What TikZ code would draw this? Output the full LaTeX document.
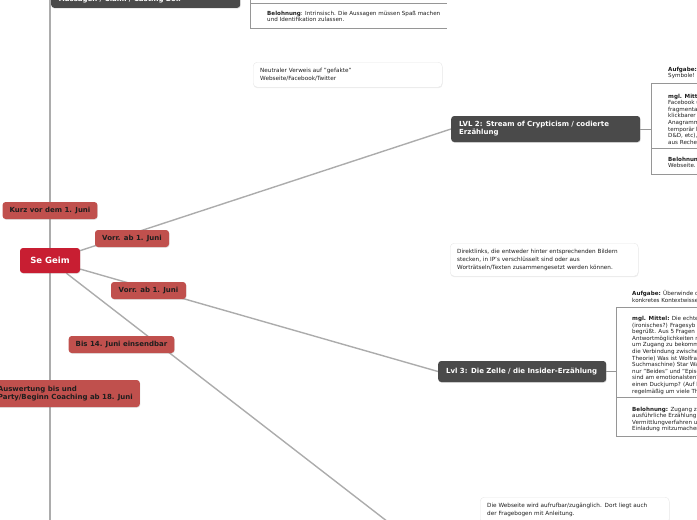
\documentclass[tikz,border=0pt]{standalone}
\usepackage{fontspec}
\setmainfont{DejaVu Sans}
\usetikzlibrary{positioning,shadows}

\pgfdeclarelayer{background}
\pgfsetlayers{background,main}

\definecolor{labelred}{RGB}{192,80,77}
\definecolor{geimred}{RGB}{200,30,50}
\definecolor{boxgray}{RGB}{74,74,74}
\definecolor{linegray}{RGB}{172,172,172}
\definecolor{framegray}{RGB}{150,150,150}
\definecolor{notegray}{RGB}{232,232,232}
\definecolor{txtgray}{RGB}{30,30,30}

\tikzset{
  darkbox/.style={fill=boxgray, rounded corners=3pt, text=white,
    font=\bfseries\fontsize{7}{8}\selectfont, inner xsep=8pt, inner ysep=0pt, align=left,
    drop shadow={opacity=0.25, shadow xshift=0.5pt, shadow yshift=-0.8pt}},
  datebox/.style={fill=labelred, rounded corners=3pt, text=txtgray,
    font=\bfseries\fontsize{7}{8}\selectfont, minimum height=17pt, inner xsep=7pt, inner ysep=0pt, align=left,
    drop shadow={opacity=0.2, shadow xshift=0.5pt, shadow yshift=-0.8pt}},
  rootbox/.style={fill=geimred, rounded corners=3pt, text=white,
    font=\bfseries\fontsize{8.5}{10}\selectfont, minimum width=60pt, minimum height=25pt,
    drop shadow={opacity=0.2, shadow xshift=0.5pt, shadow yshift=-0.8pt}},
  notebox/.style={fill=white, draw=notegray, line width=0.4pt, rounded corners=4pt, text=txtgray, anchor=north west,
    font=\fontsize{5.7}{8}\selectfont, align=left, inner xsep=7pt, inner ysep=0pt,
    drop shadow={opacity=0.15, shadow xshift=0.3pt, shadow yshift=-1pt}},
  coltext/.style={font=\fontsize{5.6}{6.6}\selectfont, text=txtgray, align=left, inner sep=0pt, anchor=north west},
  branch/.style={draw=linegray, line width=1.6pt},
  frame/.style={draw=framegray, line width=0.6pt},
}

\begin{document}
\begin{tikzpicture}[x=1pt, y=-1pt]
\useasboundingbox (0,0) rectangle (697,520);

% root and levels
\node[rootbox] (geim) at (50,260.5) {Se Geim};
\node[darkbox, anchor=south west, text width=173pt, minimum height=17pt] (aussagen) at (51,8) {Aussagen / Claim / Casting Box};
\node[darkbox, anchor=west, text width=173pt, minimum height=26pt] (lvlzwei) at (451,129) {LVL 2: Stream of Crypticism / codierte\\Erzählung};
\node[darkbox, anchor=west, text width=152pt, minimum height=21pt] (lvldrei) at (438,371.5) {Lvl 3: Die Zelle / die Insider-Erzählung};

% dates on the branches
\node[datebox, minimum width=94pt] (kurz) at (50,210.5) {Kurz vor dem 1. Juni};
\node[datebox, minimum width=74pt] (vorrzwei) at (132,238.5) {Vorr. ab 1. Juni};
\node[datebox, minimum width=75pt] (vorrdrei) at (148.5,290.5) {Vorr. ab 1. Juni};
\node[datebox, minimum width=105pt] (einsend) at (121.5,344.5) {Bis 14. Juni einsendbar};
\node[datebox, minimum height=27pt, anchor=east] (auswert) at (140,393.5) {Auswertung bis und\\Party/Beginn Coaching ab 18. Juni};

% notes
\node[notebox, minimum width=189pt, minimum height=25pt, text width=175pt] (verweis) at (253,62) {Neutraler Verweis auf "gefakte"\\Webseite/Facebook/Twitter};
\node[notebox, minimum width=188pt, minimum height=33pt, text width=174pt] (direkt) at (450,243) {Direktlinks, die entweder hinter entsprechenden Bildern\\stecken, in IP's verschlüsselt sind oder aus\\Worträtseln/Texten zusammengesetzt werden können.};
\node[notebox, minimum width=189pt, minimum height=26pt, text width=175pt] (webseite) at (480,497) {Die Webseite wird aufrufbar/zugänglich. Dort liegt auch\\der Fragebogen mit Anleitung.};

% free ends
\coordinate (topend) at (50,-5);
\coordinate (bottomend) at (50,530);
\coordinate (lvlvier) at (401,532);
\coordinate (colzwei) at (651,129);
\coordinate (coldrei) at (616,371.5);

\begin{pgfonlayer}{background}
\draw[branch] (geim) -- (topend);
\draw[branch] (geim) -- (bottomend);
\draw[branch, line width=1.4pt] (geim) -- (lvlzwei.west);
\draw[branch, line width=1.4pt] (geim) -- (lvldrei.west);
\draw[branch, line width=1.4pt] (geim) -- (lvlvier);
\end{pgfonlayer}

% box under Aussagen (cut at the top)
\draw[frame] (250,-1) -- (250,28) -- (447,28);
\draw[frame] (250,3) -- (447,3);
\node[coltext] (aussagenlohn) at (267,10.6) {\textbf{Belohnung}: Intrinsisch. Die Aussagen müssen Spaß machen\\und Identifikation zulassen.};

% LVL 2 column
\draw[frame] (lvlzwei.east) -- (colzwei);
\draw[frame] (651,83) -- (651,174);
\draw[frame] (651,83) -- (697,83);
\draw[frame] (651,148) -- (697,148);
\draw[frame] (651,174) -- (697,174);
\node[coltext] (zweiaufgabe) at (668,66.6) {\textbf{Aufgabe:}\\Symbole!};
\node[coltext] (zweimittel) at (668,93.6) {\textbf{mgl. Mitt}\\Facebook u\\fragmenta\\klickbarer\\Anagramm\\temporär k\\D\&D, etc),\\aus Rechen};
\node[coltext] (zweilohn) at (668,156.6) {\textbf{Belohnun}\\Webseite.};

% Lvl 3 column
\draw[frame] (lvldrei.east) -- (coldrei);
\draw[frame] (616,307) -- (616,436);
\draw[frame] (616,307) -- (697,307);
\draw[frame] (616,397) -- (697,397);
\draw[frame] (616,436) -- (697,436);
\node[coltext] (dreiaufgabe) at (632,290.6) {\textbf{Aufgabe:} Überwinde d\\konkretes Kontextwisse};
\node[coltext] (dreimittel) at (632,316.1) {\textbf{mgl. Mittel:} Die echte,\\(ironisches?) Fragesyb\\begrüßt. Aus 5 Fragen\\Antwortmöglichkeiten n\\um Zugang zu bekomm\\die Verbindung zwische\\Theorie) Was ist Wolfra\\Suchmaschine) Star Wa\\nur "Beides" und "Episo\\sind am emotionalsten?\\einen Duckjump? (Auf l\\regelmäßig um viele Th};
\node[coltext] (dreilohn) at (632,406.6) {\textbf{Belohnung:} Zugang zu\\ausführliche Erzählung\\Vermittlungverfahren u\\Einladung mitzumacher};
\end{tikzpicture}
\end{document}
